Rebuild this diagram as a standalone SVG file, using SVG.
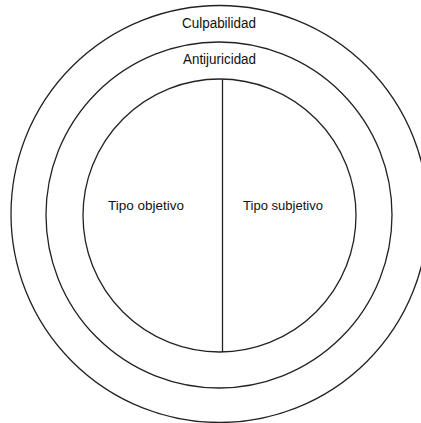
<svg xmlns="http://www.w3.org/2000/svg" width="421" height="423" viewBox="0 0 421 423">
<style>
.ring{fill:none;stroke:#222;stroke-width:1.3}
.lbl{font-family:"Liberation Sans",Arial,sans-serif;fill:#111}
</style>
<rect width="421" height="423" fill="#fff"/>
<g id="culpabilidad">
<circle class="ring" cx="219.5" cy="214" r="208.5"/>
<text class="lbl" x="182" y="27.5" font-size="14" textLength="74" lengthAdjust="spacingAndGlyphs">Culpabilidad</text>
</g>
<g id="antijuricidad">
<circle class="ring" cx="219" cy="215" r="173"/>
<text class="lbl" x="183" y="64" font-size="14" textLength="73" lengthAdjust="spacingAndGlyphs">Antijuricidad</text>
</g>
<g id="tipo">
<circle class="ring" cx="219.5" cy="215.5" r="136.5"/>
</g>
<g id="connectors">
<line class="ring" x1="222.5" y1="79" x2="222.5" y2="352"/>
</g>
<g id="tipo-objetivo">
<text class="lbl" x="108" y="210" font-size="13" textLength="76" lengthAdjust="spacingAndGlyphs">Tipo objetivo</text>
</g>
<g id="tipo-subjetivo">
<text class="lbl" x="243" y="210" font-size="13" textLength="80" lengthAdjust="spacingAndGlyphs">Tipo subjetivo</text>
</g>
</svg>
